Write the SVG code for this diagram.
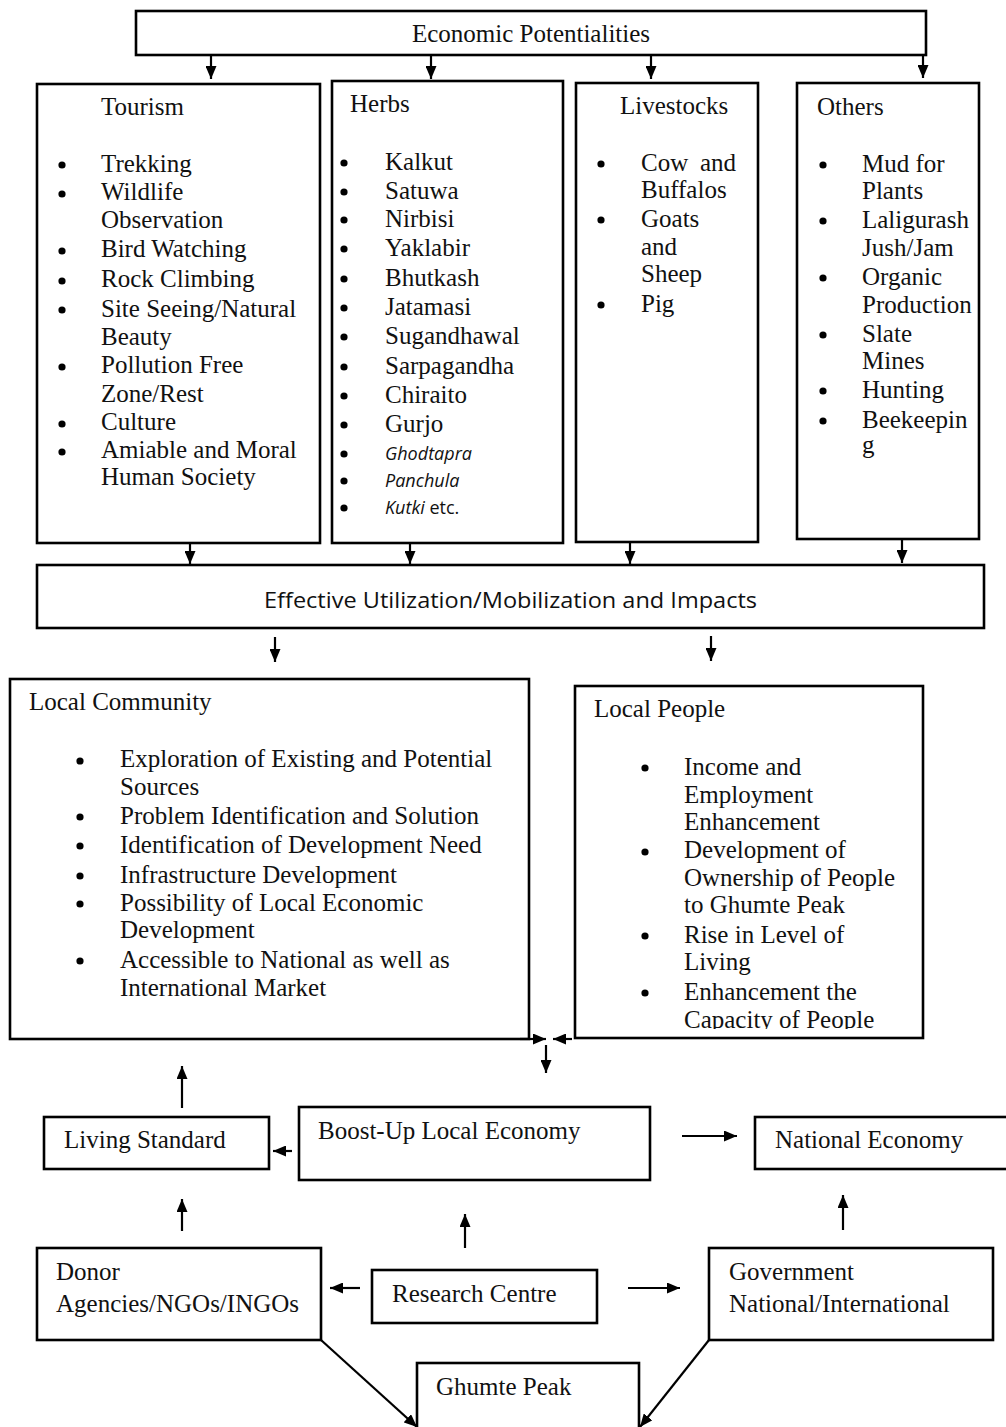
<svg xmlns="http://www.w3.org/2000/svg" width="1006" height="1427" viewBox="0 0 1006 1427">
  <style>
    .box { fill: #fff; stroke: #000; stroke-width: 2.6; }
    .t { font-family: "Liberation Serif", "Times New Roman", serif; font-size: 25px; fill: #111; }
    .s { font-family: "Open Sans", "Liberation Sans", sans-serif; fill: #111; }
    .it { font-family: "Open Sans", "Liberation Sans", sans-serif; font-size: 18px; font-style: italic; fill: #111; }
    .b { fill: #000; }
    .conn line { stroke: #000; stroke-width: 2.2; marker-end: url(#ah); }
  </style>
  <defs>
    <marker id="ah" viewBox="0 0 13 11" refX="13" refY="5.5" markerWidth="13" markerHeight="11" markerUnits="userSpaceOnUse" orient="auto">
      <path d="M0,0 L13,5.5 L0,11 z" fill="#000"/>
    </marker>
    <clipPath id="lpClip">
      <rect x="575" y="686" width="348" height="343"/>
    </clipPath>
  </defs>
  <rect width="1006" height="1427" fill="#fff"/>

  <!-- top node -->
  <g id="economic-potentialities">
    <rect class="box" x="136" y="11" width="790" height="44"/>
    <text class="t" x="531" y="42" text-anchor="middle">Economic Potentialities</text>
  </g>

  <g id="tourism">
    <rect class="box" x="37" y="84" width="283" height="459"/>
    <text class="t" x="101" y="115">Tourism</text>
    <g class="b">
      <circle cx="62" cy="165" r="3.6"/><circle cx="62" cy="194" r="3.6"/>
      <circle cx="62" cy="251" r="3.6"/><circle cx="62" cy="281" r="3.6"/>
      <circle cx="62" cy="310" r="3.6"/><circle cx="62" cy="367" r="3.6"/>
      <circle cx="62" cy="424" r="3.6"/><circle cx="62" cy="452" r="3.6"/>
    </g>
    <text class="t" x="101" y="172">Trekking</text>
    <text class="t" x="101" y="200">Wildlife</text>
    <text class="t" x="101" y="228">Observation</text>
    <text class="t" x="101" y="257">Bird Watching</text>
    <text class="t" x="101" y="287">Rock Climbing</text>
    <text class="t" x="101" y="317">Site Seeing/Natural</text>
    <text class="t" x="101" y="345">Beauty</text>
    <text class="t" x="101" y="373">Pollution Free</text>
    <text class="t" x="101" y="402">Zone/Rest</text>
    <text class="t" x="101" y="430">Culture</text>
    <text class="t" x="101" y="458">Amiable and Moral</text>
    <text class="t" x="101" y="485">Human Society</text>
  </g>

  <g id="herbs">
    <rect class="box" x="332" y="81" width="231" height="462"/>
    <text class="t" x="350" y="112">Herbs</text>
    <g class="b">
      <circle cx="344" cy="163" r="3.6"/><circle cx="344" cy="192" r="3.6"/>
      <circle cx="344" cy="220" r="3.6"/><circle cx="344" cy="249" r="3.6"/>
      <circle cx="344" cy="279" r="3.6"/><circle cx="344" cy="308" r="3.6"/>
      <circle cx="344" cy="337" r="3.6"/><circle cx="344" cy="367" r="3.6"/>
      <circle cx="344" cy="396" r="3.6"/><circle cx="344" cy="425" r="3.6"/>
      <circle cx="344" cy="454" r="3.6"/><circle cx="344" cy="481" r="3.6"/>
      <circle cx="344" cy="508" r="3.6"/>
    </g>
    <text class="t" x="385" y="170">Kalkut</text>
    <text class="t" x="385" y="199">Satuwa</text>
    <text class="t" x="385" y="227">Nirbisi</text>
    <text class="t" x="385" y="256">Yaklabir</text>
    <text class="t" x="385" y="286">Bhutkash</text>
    <text class="t" x="385" y="315">Jatamasi</text>
    <text class="t" x="385" y="344">Sugandhawal</text>
    <text class="t" x="385" y="374">Sarpagandha</text>
    <text class="t" x="385" y="403">Chiraito</text>
    <text class="t" x="385" y="432">Gurjo</text>
    <text class="it" x="385" y="460">Ghodtapra</text>
    <text class="it" x="385" y="487">Panchula</text>
    <text class="it" x="385" y="514">Kutki<tspan font-style="normal"> etc.</tspan></text>
  </g>

  <g id="livestocks">
    <rect class="box" x="576" y="83" width="182" height="459"/>
    <text class="t" x="620" y="114">Livestocks</text>
    <g class="b">
      <circle cx="601" cy="164" r="3.6"/><circle cx="601" cy="220" r="3.6"/>
      <circle cx="601" cy="305" r="3.6"/>
    </g>
    <text class="t" x="641" y="171">Cow</text>
    <text class="t" x="700" y="171">and</text>
    <text class="t" x="641" y="198">Buffalos</text>
    <text class="t" x="641" y="227">Goats</text>
    <text class="t" x="641" y="255">and</text>
    <text class="t" x="641" y="282">Sheep</text>
    <text class="t" x="641" y="312">Pig</text>
  </g>

  <g id="others">
    <rect class="box" x="797" y="83" width="182" height="456"/>
    <text class="t" x="817" y="115">Others</text>
    <g class="b">
      <circle cx="823" cy="165" r="3.6"/><circle cx="823" cy="221" r="3.6"/>
      <circle cx="823" cy="278" r="3.6"/><circle cx="823" cy="335" r="3.6"/>
      <circle cx="823" cy="391" r="3.6"/><circle cx="823" cy="421" r="3.6"/>
    </g>
    <text class="t" x="862" y="172">Mud for</text>
    <text class="t" x="862" y="199">Plants</text>
    <text class="t" x="862" y="228">Laligurash</text>
    <text class="t" x="862" y="256">Jush/Jam</text>
    <text class="t" x="862" y="285">Organic</text>
    <text class="t" x="862" y="313">Production</text>
    <text class="t" x="862" y="342">Slate</text>
    <text class="t" x="862" y="369">Mines</text>
    <text class="t" x="862" y="398">Hunting</text>
    <text class="t" x="862" y="428">Beekeepin</text>
    <text class="t" x="862" y="453">g</text>
  </g>

  <g id="effective-utilization">
    <rect class="box" x="37" y="565" width="947" height="63"/>
    <text class="s" x="264" y="608" font-size="22" textLength="493" lengthAdjust="spacingAndGlyphs">Effective Utilization/Mobilization and Impacts</text>
  </g>

  <g id="local-community">
    <rect class="box" x="10" y="679" width="519" height="360"/>
    <text class="t" x="29" y="710">Local Community</text>
    <g class="b">
      <circle cx="80" cy="761" r="3.6"/><circle cx="80" cy="817" r="3.6"/>
      <circle cx="80" cy="846" r="3.6"/><circle cx="80" cy="876" r="3.6"/>
      <circle cx="80" cy="904" r="3.6"/><circle cx="80" cy="961" r="3.6"/>
    </g>
    <text class="t" x="120" y="767">Exploration of Existing and Potential</text>
    <text class="t" x="120" y="795">Sources</text>
    <text class="t" x="120" y="824">Problem Identification and Solution</text>
    <text class="t" x="120" y="853">Identification of Development Need</text>
    <text class="t" x="120" y="883">Infrastructure Development</text>
    <text class="t" x="120" y="911">Possibility of Local Economic</text>
    <text class="t" x="120" y="938">Development</text>
    <text class="t" x="120" y="968">Accessible to National as well as</text>
    <text class="t" x="120" y="996">International Market</text>
  </g>

  <g id="local-people">
    <rect class="box" x="575" y="686" width="348" height="352"/>
    <text class="t" x="594" y="717">Local People</text>
    <g class="b">
      <circle cx="645" cy="768" r="3.6"/><circle cx="645" cy="852" r="3.6"/>
      <circle cx="645" cy="936" r="3.6"/><circle cx="645" cy="993" r="3.6"/>
    </g>
    <g clip-path="url(#lpClip)">
      <text class="t" x="684" y="775">Income and</text>
      <text class="t" x="684" y="803">Employment</text>
      <text class="t" x="684" y="830">Enhancement</text>
      <text class="t" x="684" y="858">Development of</text>
      <text class="t" x="684" y="886">Ownership of People</text>
      <text class="t" x="684" y="913">to Ghumte Peak</text>
      <text class="t" x="684" y="943">Rise in Level of</text>
      <text class="t" x="684" y="970">Living</text>
      <text class="t" x="684" y="1000">Enhancement the</text>
      <text class="t" x="684" y="1028">Capacity of People</text>
    </g>
  </g>

  <g id="living-standard">
    <rect class="box" x="44" y="1117" width="225" height="52"/>
    <text class="t" x="64" y="1148">Living Standard</text>
  </g>

  <g id="boost-up-local-economy">
    <rect class="box" x="299" y="1107" width="351" height="73"/>
    <text class="t" x="318" y="1139">Boost-Up Local Economy</text>
  </g>

  <g id="national-economy">
    <rect class="box" x="755" y="1117" width="270" height="52"/>
    <text class="t" x="775" y="1148">National Economy</text>
  </g>

  <g id="donor-agencies">
    <rect class="box" x="37" y="1248" width="284" height="92"/>
    <text class="t" x="56" y="1280">Donor</text>
    <text class="t" x="56" y="1312">Agencies/NGOs/INGOs</text>
  </g>

  <g id="research-centre">
    <rect class="box" x="372" y="1270" width="225" height="53"/>
    <text class="t" x="392" y="1302">Research Centre</text>
  </g>

  <g id="government">
    <rect class="box" x="709" y="1248" width="284" height="92"/>
    <text class="t" x="729" y="1280">Government</text>
    <text class="t" x="729" y="1312">National/International</text>
  </g>

  <g id="ghumte-peak">
    <rect class="box" x="417" y="1363" width="222" height="90"/>
    <text class="t" x="436" y="1395">Ghumte Peak</text>
  </g>

  <!-- connectors -->
  <g id="connectors" class="conn">
    <line x1="211" y1="55" x2="211" y2="79"/>
    <line x1="431" y1="55" x2="431" y2="79"/>
    <line x1="651" y1="55" x2="651" y2="79"/>
    <line x1="923" y1="55" x2="923" y2="78"/>

    <line x1="190" y1="543" x2="190" y2="564"/>
    <line x1="410" y1="543" x2="410" y2="564"/>
    <line x1="630" y1="542" x2="630" y2="564"/>
    <line x1="902" y1="539" x2="902" y2="563"/>

    <line x1="275" y1="637" x2="275" y2="662"/>
    <line x1="711" y1="636" x2="711" y2="661"/>

    <line x1="520" y1="1039" x2="546" y2="1039"/>
    <line x1="572" y1="1039" x2="553" y2="1039"/>
    <line x1="546" y1="1045" x2="546" y2="1073"/>

    <line x1="182" y1="1108" x2="182" y2="1066"/>
    <line x1="292" y1="1151" x2="273" y2="1151"/>
    <line x1="682" y1="1136" x2="737" y2="1136"/>

    <line x1="182" y1="1231" x2="182" y2="1199"/>
    <line x1="465" y1="1248" x2="465" y2="1214"/>
    <line x1="843" y1="1230" x2="843" y2="1195"/>

    <line x1="360" y1="1288" x2="330" y2="1288"/>
    <line x1="628" y1="1288" x2="680" y2="1288"/>

    <line x1="321" y1="1340" x2="417" y2="1427"/>
    <line x1="709" y1="1340" x2="640" y2="1427"/>
  </g>
</svg>
